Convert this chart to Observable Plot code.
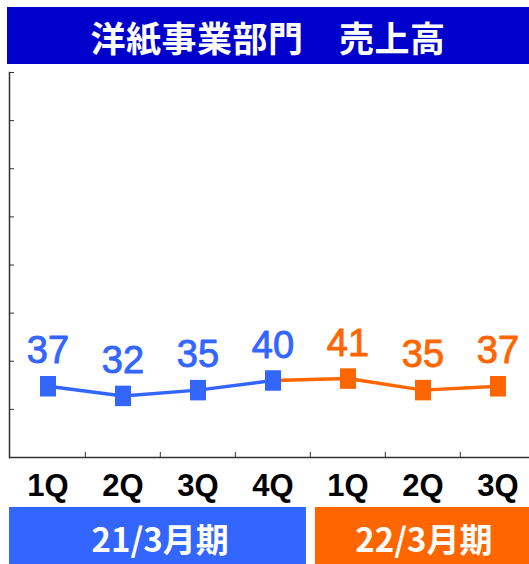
<!DOCTYPE html>
<html><head><meta charset="utf-8">
<script src="https://cdn.jsdelivr.net/npm/d3@7"></script>
<script src="https://cdn.jsdelivr.net/npm/@observablehq/plot@0.6"></script>
<style>
html,body{margin:0;padding:0;background:#fff;overflow:hidden;width:529px;height:564px;}
#title{position:absolute;left:7px;top:7px;width:522px;height:57px;background:#0000CC;color:#fff;
  font-family:"Noto Sans CJK JP",sans-serif;font-weight:bold;font-size:35px;letter-spacing:0.5px;
  display:flex;align-items:center;justify-content:center;padding-top:2px;box-sizing:border-box;white-space:pre;}
#chart{position:absolute;left:0;top:64px;}
#periods{position:absolute;left:0;top:507px;}
#chart svg, #periods svg{max-width:none !important;height:auto;}
</style></head>
<body>
<div id="title">洋紙事業部門　売上高</div>
<div id="chart"></div>
<div id="periods"></div>
<script>
const quarters = ["1Q","2Q","3Q","4Q","1Q","2Q","3Q"];
const periodOf = ["21/3月期","21/3月期","21/3月期","21/3月期","22/3月期","22/3月期","22/3月期"];
const sales = [37,32,35,40,41,35,37];
const yTicks = [0,25,50,75,100,125,150,175,200];
const periodNames = ["21/3月期","22/3月期"];
const periodColors = ["#3366FF","#FF6600"];

const rows = sales.map((v,i)=>({i, q: quarters[i], period: periodOf[i], v}));
const blueLine = rows.filter(r=>r.period===periodNames[0]);
const orangeLine = [blueLine[blueLine.length-1], ...rows.filter(r=>r.period===periodNames[1])];
const latin = "Liberation Sans, Arial, sans-serif";
const step = (536.5-9)/rows.length;
// tall rectangular marker (wider than high ratio as in the original)
const tallSquare = {draw(ctx) { const w = 16, h = 20.5; ctx.rect(-w/2, -h/2, w, h); }};

const chart = Plot.plot({
  width: 537, height: 443,
  marginLeft: 9, marginRight: 0.5, marginTop: 8, marginBottom: 50,
  style: {background: "transparent", overflow: "visible"},
  x: {type: "band", domain: rows.map(r=>r.i), padding: 0, axis: null},
  y: {domain: [0, 200], axis: null},
  color: {domain: periodNames, range: periodColors},
  marks: [
    Plot.frame({anchor: "left", stroke: "#333", strokeWidth: 1.5}),
    Plot.ruleY([0], {stroke: "#333", strokeWidth: 1.5}),
    Plot.axisY(yTicks, {tickSize: 5, dx: 5, tickFormat: () => "", stroke: "#333", label: null}),
    Plot.axisX(rows.slice(1).map(r=>r.i), {tickSize: 5, dy: -5, dx: -step/2, tickFormat: () => "", stroke: "#333", label: null}),
    Plot.axisX({tickSize: 0, tickPadding: 16, tickFormat: i => quarters[i], fontSize: 31, fontWeight: "bold", fill: "#000", fontFamily: latin, label: null}),
    Plot.line(blueLine, {x: "i", y: "v", stroke: periodColors[0], strokeWidth: 3.5}),
    Plot.line(orangeLine, {x: "i", y: "v", stroke: periodColors[1], strokeWidth: 3.5}),
    Plot.dot(rows, {x: "i", y: "v", symbol: tallSquare, r: 9, fill: "period", stroke: null}),
    Plot.text(rows, {x: "i", y: "v", text: d => String(d.v), fill: "period", stroke: "period", strokeWidth: 0.9, fontSize: 38, fontFamily: latin, lineAnchor: "bottom", dy: -23})
  ]
});
document.getElementById("chart").append(chart);

const bands = periodNames.map((p, k) => {
  const start = rows.findIndex(r => r.period === p);
  const end = start + rows.filter(r => r.period === p).length;
  return {name: p, start, end, first: k === 0};
});
const periodsPlot = Plot.plot({
  width: 537, height: 57, margin: 0, marginLeft: 9, marginRight: 0.5,
  style: {background: "transparent"},
  x: {domain: [0, rows.length], axis: null},
  color: {domain: periodNames, range: periodColors},
  marks: [
    Plot.rect(bands, {filter: d => d.first, x1: "start", x2: "end", fill: "name", insetRight: 4.5}),
    Plot.rect(bands, {filter: d => !d.first, x1: "start", x2: "end", fill: "name", insetLeft: 4.5}),
    Plot.text(bands, {x: d => (d.start + d.end) / 2, text: "name", fill: "white", fontSize: 33, fontWeight: "bold", fontFamily: "Noto Sans CJK JP", dy: 5})
  ]
});
document.getElementById("periods").append(periodsPlot);
</script>
</body></html>
